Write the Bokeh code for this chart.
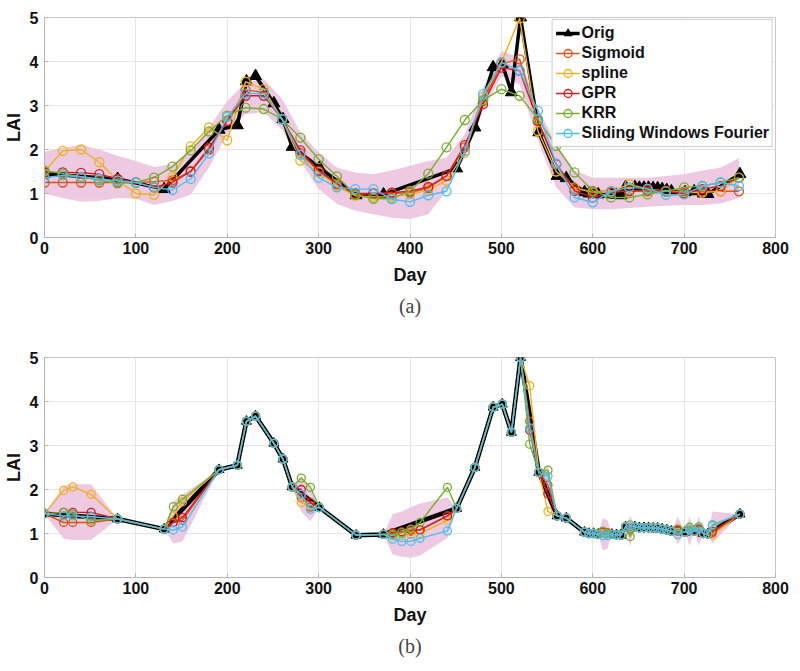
import numpy as np
from bokeh.plotting import figure
from bokeh.layouts import column
from bokeh.models import Range1d, Title, FixedTicker
from bokeh.embed import file_html
from bokeh.resources import INLINE

# ---------------- data: panel (a) -----------------
days_a = list(range(0, 761, 20))
sigmoid_a = [1.25, 1.25, 1.25, 1.25, 1.25, 1.25, 1.27, 1.30, 1.50, 2.00, 2.65, 3.35, 3.30, 2.69, 1.92, 1.50, 1.21, 0.98, 1.00, 1.00,
             1.02, 1.12, 1.40, 2.05, 3.10, 3.95, 4.05, 2.65, 1.67, 1.10, 1.05, 1.05, 1.05, 1.05, 1.05, 1.05, 1.05, 1.05, 1.05]
spline_a = [1.50, 1.97, 2.00, 1.71, 1.30, 1.00, 0.97, 1.37, 2.07, 2.50, 2.21, 3.54, 3.37, 2.69, 1.75, 1.48, 1.17, 0.95, 0.92, 0.93,
            0.98, 1.08, 1.29, 1.93, 3.20, 3.98, 4.98, 2.42, 1.50, 1.14, 1.02, 1.05, 1.21, 1.10, 1.06, 1.02, 1.02, 1.05, 1.36]
gpr_a = [1.48, 1.48, 1.47, 1.44, 1.33, 1.25, 1.14, 1.25, 1.50, 2.04, 2.65, 3.22, 3.22, 2.69, 1.98, 1.52, 1.23, 1.00, 1.00, 1.02,
         1.05, 1.15, 1.40, 2.10, 3.03, 3.86, 3.79, 2.65, 1.67, 1.06, 0.91, 1.02, 1.06, 1.08, 1.05, 1.00, 1.10, 1.17, 1.36]
krr_a = [1.52, 1.45, 1.38, 1.30, 1.23, 1.25, 1.36, 1.61, 1.98, 2.41, 2.77, 2.95, 2.92, 2.69, 2.27, 1.78, 1.39, 0.97, 0.88, 0.88,
         1.06, 1.45, 2.05, 2.67, 3.12, 3.37, 3.22, 2.69, 2.08, 1.48, 1.06, 0.91, 0.91, 0.98, 1.05, 1.14, 1.17, 1.25, 1.36]
swf_a = [1.36, 1.41, 1.38, 1.33, 1.29, 1.25, 1.14, 1.08, 1.33, 1.91, 2.74, 3.27, 3.27, 2.69, 1.88, 1.36, 1.14, 1.10, 1.10, 0.87,
         0.81, 0.96, 1.05, 1.97, 3.26, 3.98, 3.79, 2.88, 1.68, 0.91, 0.80, 1.05, 1.14, 1.11, 0.97, 0.98, 1.17, 1.25, 1.17]
band_lo_a = [1.00, 0.90, 0.81, 0.83, 0.90, 0.88, 0.74, 0.83, 0.98, 1.59, 2.35, 2.80, 2.85, 2.45, 1.74, 1.10, 0.76, 0.61, 0.53, 0.45,
             0.42, 0.53, 1.06, 1.82, 2.88, 3.67, 3.48, 2.20, 1.14, 0.68, 0.64, 0.64, 0.67, 0.70, 0.72, 0.74, 0.74, 0.77, 0.90]
band_hi_a = [1.95, 2.04, 2.10, 2.00, 1.86, 1.74, 1.60, 1.67, 1.97, 2.50, 3.10, 3.52, 3.60, 3.15, 2.39, 1.93, 1.59, 1.48, 1.44, 1.52,
             1.63, 1.74, 1.82, 2.35, 3.41, 4.24, 4.09, 2.95, 2.12, 1.52, 1.36, 1.36, 1.36, 1.36, 1.40, 1.44, 1.52, 1.59, 1.80]

# ---------------- data: original series -----------------
orig_day = [0, 80, 131, 191, 211, 221, 231, 251, 261, 271, 301, 341, 371, 451, 471, 491, 501, 511, 521, 541, 561, 571,
            591, 596, 601, 606, 621, 626, 631, 636, 646, 651, 656, 661, 666, 671, 676, 681, 686, 701, 711, 721, 726, 761]
orig_lai = [1.45, 1.33, 1.10, 2.45, 2.55, 3.55, 3.67, 3.05, 2.69, 2.06, 1.59, 0.96, 0.98, 1.57, 2.50, 3.87, 3.94, 3.30, 5.00, 2.39, 1.40, 1.35,
            1.03, 1.00, 1.00, 0.98, 0.98, 0.97, 0.96, 1.15, 1.15, 1.13, 1.13, 1.13, 1.12, 1.12, 1.10, 1.08, 1.05, 1.03, 1.05, 1.00, 0.99, 1.44]

# ---------------- data: panel (b) gap-filling -----------------
gap_day = [21, 31, 51, 141, 151, 281, 291, 381, 391, 401, 411, 441, 531, 551, 611, 616, 641, 693, 706, 716, 731]
sigmoid_b = [1.25, 1.25, 1.25, 1.25, 1.30, 1.82, 1.60, 1.00, 1.02, 1.05, 1.08, 1.40, 3.55, 2.10, 1.05, 1.02, 1.12, 1.05, 1.07, 1.08, 1.02]
spline_b = [1.98, 2.06, 1.89, 1.40, 1.72, 1.70, 1.63, 0.95, 0.96, 0.98, 1.00, 1.30, 4.36, 1.50, 1.00, 1.00, 1.20, 1.10, 1.10, 1.13, 0.97]
gpr_b = [1.48, 1.48, 1.48, 1.25, 1.36, 2.00, 1.70, 1.02, 1.04, 1.08, 1.08, 1.40, 3.35, 1.90, 1.03, 1.00, 1.10, 1.07, 1.07, 1.10, 1.05]
krr_b = [1.48, 1.44, 1.30, 1.61, 1.78, 2.26, 2.05, 0.98, 1.02, 1.10, 1.25, 2.05, 3.03, 2.44, 1.05, 1.00, 0.93, 1.10, 1.14, 1.15, 1.18]
swf_b = [1.40, 1.40, 1.38, 1.08, 1.15, 1.89, 1.55, 0.87, 0.82, 0.82, 0.89, 1.06, 3.40, 2.30, 0.95, 0.95, 1.18, 0.98, 1.08, 1.12, 1.20]
band_lo_b = [0.88, 0.85, 0.85, 0.77, 0.82, 1.50, 1.28, 0.53, 0.47, 0.45, 0.50, 0.90, 3.15, 2.00, 0.62, 0.65, 0.70, 0.75, 0.72, 0.72, 0.78]
band_hi_b = [2.08, 2.12, 2.12, 1.72, 1.88, 2.30, 2.00, 1.44, 1.50, 1.60, 1.68, 1.82, 3.65, 2.55, 1.35, 1.30, 1.40, 1.38, 1.38, 1.40, 1.50]

x_ticks = [0, 100, 200, 300, 400, 500, 600, 700, 800]
y_ticks = [0, 1, 2, 3, 4, 5]

names = ["Sigmoid", "spline", "GPR", "KRR", "Sliding Windows Fourier"]
colors = ["#D95319", "#EDB120", "#D01C1F", "#77AC30", "#4DBEEE"]
PINK = "#EBC4DF"
FONT = "Liberation Sans"


def make_fig(height, top, bottom, tag):
    p = figure(width=800, height=height, output_backend="svg", toolbar_location=None,
               x_range=Range1d(0, 800), y_range=Range1d(0, 5),
               min_border_left=42, min_border_right=25, min_border_top=top, min_border_bottom=bottom)
    p.xaxis.ticker = FixedTicker(ticks=x_ticks)
    p.yaxis.ticker = FixedTicker(ticks=y_ticks)
    p.xaxis.axis_label = "Day"
    p.yaxis.axis_label = "LAI"
    for ax in (p.xaxis[0], p.yaxis[0]):
        ax.axis_line_color = "#b4b4b4"
        ax.major_tick_line_color = "#b4b4b4"
        ax.major_tick_in = 4
        ax.major_tick_out = 0
        ax.minor_tick_line_color = None
        ax.major_label_text_font = FONT
        ax.major_label_text_font_style = "bold"
        ax.major_label_text_font_size = "16px"
        ax.major_label_text_color = "#111111"
        ax.axis_label_text_font = FONT
        ax.axis_label_text_font_style = "bold"
        ax.axis_label_text_font_size = "18px"
        ax.axis_label_text_color = "#111111"
    p.xaxis.major_label_standoff = 4
    p.xaxis.axis_label_standoff = 8
    p.yaxis.major_label_standoff = 6
    p.yaxis.axis_label_standoff = 3
    p.xgrid.grid_line_color = "#e6e6e6"
    p.ygrid.grid_line_color = "#e6e6e6"
    p.outline_line_color = "#c8c8c8"
    p.background_fill_color = "white"
    p.border_fill_color = "white"
    p.add_layout(Title(text=tag, align="center", text_font="Liberation Serif",
                       text_font_style="normal", text_font_size="20px", standoff=10), "below")
    return p


# ---------------- panel (a) -----------------
p1 = make_fig(340, 17, 103, "(a)")
p1.varea(x=days_a, y1=band_lo_a, y2=band_hi_a, fill_color=PINK, fill_alpha=0.9)
p1.line(orig_day, orig_lai, line_color="black", line_width=3.5, legend_label="Orig")
p1.scatter(orig_day, orig_lai, marker="triangle", size=12, fill_color="black", line_color="black",
           legend_label="Orig")
for nm, col, vals in zip(names, colors, [sigmoid_a, spline_a, gpr_a, krr_a, swf_a]):
    p1.line(days_a, vals, line_color=col, line_width=1.4, legend_label=nm)
    p1.scatter(days_a, vals, marker="circle", size=9, fill_alpha=0, line_color=col, line_width=1.3,
               legend_label=nm)
lg = p1.legend[0]
lg.location = "top_right"
lg.margin = 2
lg.padding = 3
lg.spacing = 0
lg.label_height = 20
lg.glyph_height = 20
lg.glyph_width = 24
lg.label_standoff = 2
lg.label_text_font = FONT
lg.label_text_font_style = "bold"
lg.label_text_font_size = "16px"
lg.label_text_color = "#111111"
lg.border_line_color = "#a0a0a0"
lg.background_fill_alpha = 1.0

# ---------------- panel (b) -----------------
p2 = make_fig(331, 17, 94, "(b)")
od = np.array(orig_day)
groups = {}
for i, g in enumerate(gap_day):
    k = int(np.searchsorted(od, g))
    groups.setdefault(k, []).append(i)
xs, ys = [], []
for k, idx in groups.items():
    gx = [gap_day[i] for i in idx]
    xs.append([orig_day[k - 1]] + gx + [orig_day[k]] + gx[::-1])
    ys.append([orig_lai[k - 1]] + [band_hi_b[i] for i in idx] + [orig_lai[k]] + [band_lo_b[i] for i in idx][::-1])
p2.patches(xs, ys, fill_color=PINK, fill_alpha=0.9, line_color=None)
p2.line(orig_day, orig_lai, line_color="black", line_width=4.5)
p2.scatter(orig_day, orig_lai, marker="triangle", size=10, fill_color="black", line_color="black")
for col, vals in zip(colors, [sigmoid_b, spline_b, gpr_b, krr_b, swf_b]):
    d = np.array(orig_day + gap_day)
    v = np.array(orig_lai + vals)
    order = np.argsort(d, kind="stable")
    p2.line(d[order], v[order], line_color=col, line_width=1.4)
    p2.scatter(d[order], v[order], marker="circle", size=8, fill_alpha=0, line_color=col, line_width=1.3)

layout = column(p1, p2, spacing=0)
open("out.html", "w").write(file_html(layout, INLINE))
